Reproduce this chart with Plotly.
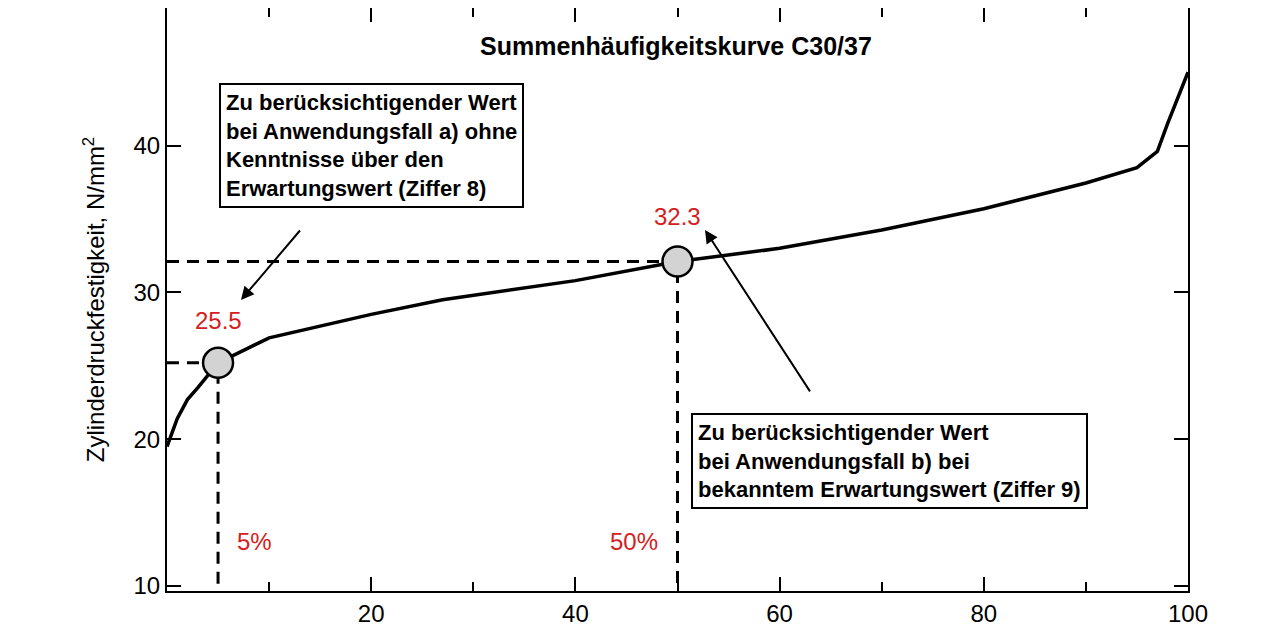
import plotly.graph_objects as go

x_vals = [0, 1, 2, 3, 5, 10, 20, 27, 40, 50, 60, 70, 80, 90, 95, 97, 98, 100]
y_vals = [19.5, 21.4, 22.7, 23.5, 25.2, 26.9, 28.5, 29.5, 30.8, 32.1, 33.0, 34.25, 35.7, 37.45, 38.5, 39.6, 41.5, 45.0]
pt_x = [5, 50]
pt_y = [25.2, 32.1]
pt_labels = ["25.5", "32.3"]
pct_labels = ["5%", "50%"]
ymin, ymax = 9.66, 49.37

F = "Liberation Sans, Arial, sans-serif"
fig = go.Figure()
for px, py in zip(pt_x, pt_y):
    fig.add_trace(go.Scatter(x=[0, px, px], y=[py, py, ymin], mode="lines",
                             line=dict(color="black", width=3, dash="12px,8px"), hoverinfo="skip"))
fig.add_trace(go.Scatter(x=x_vals, y=y_vals, mode="lines", line=dict(color="black", width=3.5)))
fig.add_trace(go.Scatter(x=pt_x, y=pt_y, mode="markers",
                         marker=dict(size=30, color="#d3d3d3", line=dict(color="black", width=2.5))))

tf = dict(family=F, size=24, color="#d42020")
fig.add_annotation(x=pt_x[0], y=pt_y[0] + 2.9, text=pt_labels[0], showarrow=False, font=tf)
fig.add_annotation(x=pt_x[1], y=pt_y[1] + 3.1, text=pt_labels[1], showarrow=False, font=tf)
fig.add_annotation(x=pt_x[0] + 1.7, y=13, text=pct_labels[0], showarrow=False, font=tf, xanchor="left")
fig.add_annotation(x=pt_x[1] - 1.7, y=13, text=pct_labels[1], showarrow=False, font=tf, xanchor="right")

bf = dict(family=F, size=22, color="black")
fig.add_annotation(xref="paper", yref="paper", x=(211 - 159) / 1021, y=1 - 75 / 583,
                   xanchor="left", yanchor="top", align="left", showarrow=False,
                   text="<b>Zu berücksichtigender Wert<br>bei Anwendungsfall a) ohne<br>Kenntnisse über den<br>Erwartungswert (Ziffer 8)</b>",
                   font=bf, bordercolor="black", borderwidth=2, borderpad=5, bgcolor="white")
fig.add_annotation(xref="paper", yref="paper", x=(683 - 159) / 1021, y=1 - 405 / 583,
                   xanchor="left", yanchor="top", align="left", showarrow=False,
                   text="<b>Zu berücksichtigender Wert<br>bei Anwendungsfall b) bei<br>bekanntem Erwartungswert (Ziffer 9)</b>",
                   font=bf, bordercolor="black", borderwidth=2, borderpad=5, bgcolor="white")

def px2x(p): return (p - 159) / 10.21
def px2y(p): return 10 + (578 - p) / 14.68
for (x0, y0, x1, y1) in [(295, 219, 233, 292), (805, 388, 697, 222)]:
    fig.add_annotation(x=px2x(x1), y=px2y(y1), ax=px2x(x0), ay=px2y(y0), axref="x", ayref="y",
                       showarrow=True, arrowhead=2, arrowsize=1.3, arrowwidth=2, arrowcolor="black", text=" ")

fig.add_annotation(xref="paper", yref="paper", x=(668 - 159) / 1021, y=1 - 22 / 583, showarrow=False,
                   text="<b>Summenhäufigkeitskurve C30/37</b>", font=dict(family=F, size=25, color="black"))

ax = dict(showline=True, linecolor="black", linewidth=2, mirror="ticks", ticks="inside",
          ticklen=14, tickwidth=2, tickcolor="black", showgrid=False, zeroline=False,
          tickfont=dict(family=F, size=24, color="black"))
fig.update_xaxes(range=[0, 100], tickvals=[20, 40, 60, 80, 100],
                 minor=dict(tickvals=[10, 30, 50, 70, 90], ticks="inside", ticklen=9, tickwidth=2, tickcolor="black"), **ax)
fig.update_yaxes(range=[ymin, ymax], tickvals=[10, 20, 30, 40],
                 title=dict(text="Zylinderdruckfestigkeit, N/mm<sup>2</sup>", font=dict(family=F, size=24, color="black"), standoff=22),
                 **ax)
fig.update_layout(width=1280, height=640, margin=dict(l=159, r=100, t=0, b=57, autoexpand=False),
                  plot_bgcolor="white", paper_bgcolor="white", showlegend=False)
fig.write_html("out.html")
